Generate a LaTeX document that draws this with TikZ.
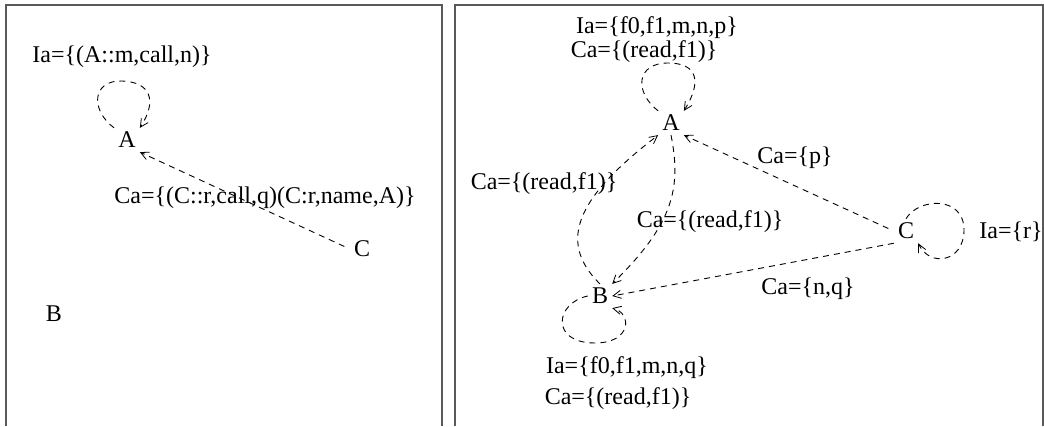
\documentclass[tikz,border=0pt]{standalone}
\usepackage{fontspec}
\setmainfont{Liberation Serif}
\usetikzlibrary{arrows.meta}
\begin{document}
\begin{tikzpicture}[x=1pt,y=-1pt,
  every node/.style={font=\fontsize{24}{28}\selectfont},
  vert/.style={inner sep=4pt},
  lbl/.style={inner sep=0pt},
  edge/.style={line width=0.9pt,dash pattern=on 6pt off 5pt,
    -{Straight Barb[length=8pt,width=8pt,line width=0.8pt]}},
  frame/.style={line width=1.5pt,draw=black!65}]
\useasboundingbox (0,0) rectangle (1044,426);
% panels
\draw[frame] (6,426) -- (6,5) -- (442,5) -- (442,426);
\draw[frame] (455,426) -- (455,5) -- (1043,5) -- (1043,426);

% ---------- left panel ----------
\node[vert] (lA) at (127,140) {A};
\node[vert] (lB) at (54,314) {B};
\node[vert] (lC) at (362,249) {C};
\node[lbl] (lIa) at (122,57) {Ia=\{(A::m,call,n)\}};
\node[lbl] (lCa) at (265,198) {Ca=\{(C::r,call,q)(C:r,name,A)\}};
\draw[edge] (lA.north west) .. controls (90,110) and (92,80) .. (122,81)
  .. controls (150,82) and (158,100) .. (lA.north east);
\draw[edge,shorten <=6pt] (lC.west) -- (lA.south east);

% ---------- right panel ----------
\node[vert] (A) at (671,123) {A};
\node[vert] (B) at (600,296) {B};
\node[vert] (C) at (906,231) {C};
\node[lbl] (AIa) at (657,28) {Ia=\{f0,f1,m,n,p\}};
\node[lbl] (ACa) at (644,52) {Ca=\{(read,f1)\}};
\node[lbl] (BAl) at (544,184) {Ca=\{(read,f1)\}};
\node[lbl] (ABl) at (710,222) {Ca=\{(read,f1)\}};
\node[lbl] (CAl) at (795,158) {Ca=\{p\}};
\node[lbl] (CIa) at (1011,232) {Ia=\{r\}};
\node[lbl] (CBl) at (808,289) {Ca=\{n,q\}};
\node[lbl] (BIa) at (627,368) {Ia=\{f0,f1,m,n,q\}};
\node[lbl] (BCa) at (618,399) {Ca=\{(read,f1)\}};

% loop on A
\draw[edge] (A.north west) .. controls (634,92) and (636,63) .. (668,63)
  .. controls (698,63) and (702,82) .. (A.north east);
% loop on C
\draw[edge] (C.north) .. controls (918,198) and (964,195) .. (964,230)
  .. controls (964,262) and (930,268) .. (C.south east);
% loop on B
\draw[edge] (B.west) .. controls (555,303) and (550,343) .. (595,343)
  .. controls (632,343) and (632,313) .. (B.south east);
% B -> A
\draw[edge] (B.north) .. controls (555,240) and (580,195) .. (A.south west);
% A -> B
\draw[edge] (A.south) .. controls (682,190) and (672,225) .. (B.north east);
% C -> A
\draw[edge,shorten <=6pt] (C.west) -- (A.south east);
% C -> B
\draw[edge] (C.south west) -- (B.east);
\end{tikzpicture}
\end{document}
